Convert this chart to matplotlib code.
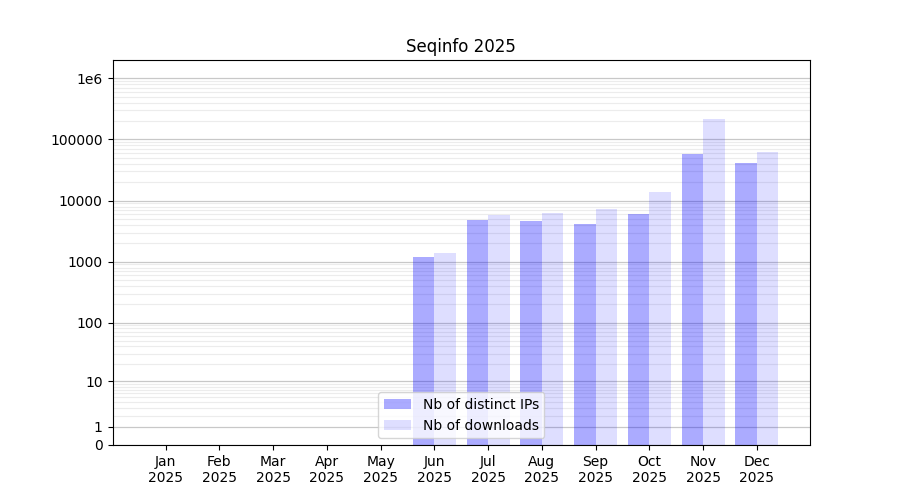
import numpy as np
import matplotlib
matplotlib.use("Agg")
import matplotlib.pyplot as plt
from matplotlib.ticker import FixedLocator, FixedFormatter

months = ["Jan", "Feb", "Mar", "Apr", "May", "Jun",
          "Jul", "Aug", "Sep", "Oct", "Nov", "Dec"]
year = "2025"
distinct_ips = [0, 0, 0, 0, 0, 1180, 4900, 4570, 4070, 5950, 57600, 42000]
downloads = [0, 0, 0, 0, 0, 1380, 5900, 6200, 7200, 13600, 220000, 63500]

ytick_values = [0, 1, 10, 100, 1000, 10000, 100000, 1000000]
ytick_labels = ["0", "1", "10", "100", "1000", "10000", "100000", "1e6"]


def fwd(v):
    return np.log10(np.clip(v, 0, None) + 1)


def inv(y):
    return 10 ** y - 1


fig, ax = plt.subplots(figsize=(9, 5), dpi=100)
x = np.arange(len(months))
w = 0.4

ax.set_yscale("function", functions=(fwd, inv))

# grille
minor = [m * 10 ** k for k in range(0, 7) for m in range(2, 10)]
ax.yaxis.set_major_locator(FixedLocator(ytick_values))
ax.yaxis.set_major_formatter(FixedFormatter(ytick_labels))
ax.yaxis.set_minor_locator(FixedLocator(minor))
ax.tick_params(axis="y", which="minor", length=0)
ax.grid(axis="y", which="major", color="#c8c8c8", linewidth=0.9)
ax.grid(axis="y", which="minor", color="#ececec", linewidth=0.8)
ax.set_axisbelow(True)

ax.bar(x - w / 2, distinct_ips, width=w, color="blue", alpha=0.33,
       label="Nb of distinct IPs")
ax.bar(x + w / 2, downloads, width=w, color="blue", alpha=0.13,
       label="Nb of downloads")

ax.set_ylim(0, 2e6)
ax.set_xticks(x)
ax.set_xticklabels([m + "\n" + year for m in months])
ax.set_title("Seqinfo 2025")
ax.legend(loc="lower center")

fig.savefig("out.png")
